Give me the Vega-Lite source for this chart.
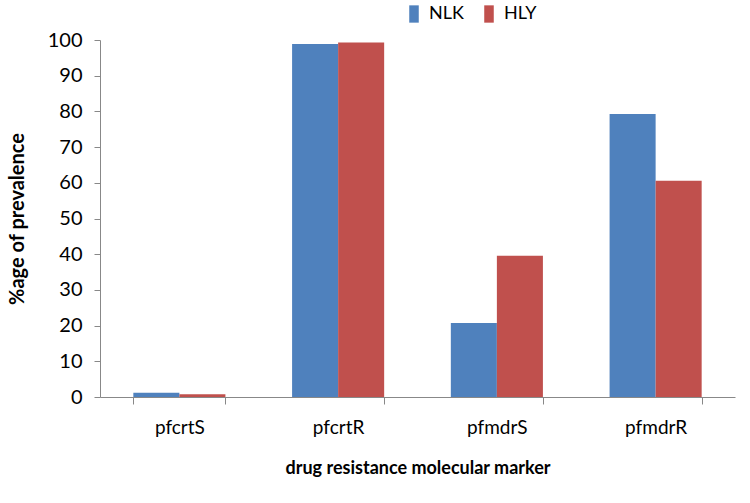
{
  "$schema": "https://vega.github.io/schema/vega-lite/v6.json",
  "width": 635,
  "height": 357,
  "autosize": "none",
  "padding": {"left": 100, "top": 40, "right": 15, "bottom": 106},
  "background": "white",
  "config": {"view": {"stroke": null}, "font": "Lato"},
  "data": {"values": [
    {"marker": "pfcrtS", "site": "NLK", "value": 1.2},
    {"marker": "pfcrtS", "site": "HLY", "value": 0.8},
    {"marker": "pfcrtR", "site": "NLK", "value": 98.9},
    {"marker": "pfcrtR", "site": "HLY", "value": 99.3},
    {"marker": "pfmdrS", "site": "NLK", "value": 20.7},
    {"marker": "pfmdrS", "site": "HLY", "value": 39.6},
    {"marker": "pfmdrR", "site": "NLK", "value": 79.3},
    {"marker": "pfmdrR", "site": "HLY", "value": 60.6}
  ]},
  "mark": {"type": "bar"},
  "encoding": {
    "x": {
      "field": "marker", "type": "nominal", "sort": ["pfcrtS", "pfcrtR", "pfmdrS", "pfmdrR"],
      "scale": {"paddingInner": 0.42, "paddingOuter": 0.21},
      "axis": {
        "title": "drug resistance molecular marker", "titleFont": "Lato", "titleFontSize": 18, "titleFontWeight": "bold", "titleColor": "#000", "titlePadding": 22,
        "labelAngle": 0, "labelFontSize": 19, "labelColor": "#000", "labelPadding": 14,
        "domainColor": "#888", "tickColor": "#888", "tickSize": 7, "tickBand": "extent"
      }
    },
    "xOffset": {"field": "site", "type": "nominal", "sort": ["NLK", "HLY"], "scale": {"paddingInner": 0, "paddingOuter": 0}},
    "y": {
      "field": "value", "type": "quantitative",
      "scale": {"domain": [0, 100]},
      "axis": {
        "title": "%age of prevalence", "titleFontSize": 20, "titleFontWeight": "bold", "titleColor": "#000", "titlePadding": 20,
        "values": [0, 10, 20, 30, 40, 50, 60, 70, 80, 90, 100],
        "labelFontSize": 20, "labelColor": "#000", "labelPadding": 12,
        "domainColor": "#888", "tickColor": "#888", "tickSize": 6, "grid": false
      }
    },
    "color": {
      "field": "site", "type": "nominal", "sort": ["NLK", "HLY"],
      "scale": {"domain": ["NLK", "HLY"], "range": ["#4F81BD", "#C0504D"]},
      "legend": {
        "title": null, "orient": "none", "direction": "horizontal", "legendX": 305, "legendY": -35,
        "symbolType": "M-0.55,-1H0.55V1H-0.55Z", "symbolSize": 300, "symbolStrokeWidth": 0, "symbolOpacity": 1,
        "labelFontSize": 18, "labelColor": "#000", "columnPadding": 16, "labelOffset": 6
      }
    }
  }
}
